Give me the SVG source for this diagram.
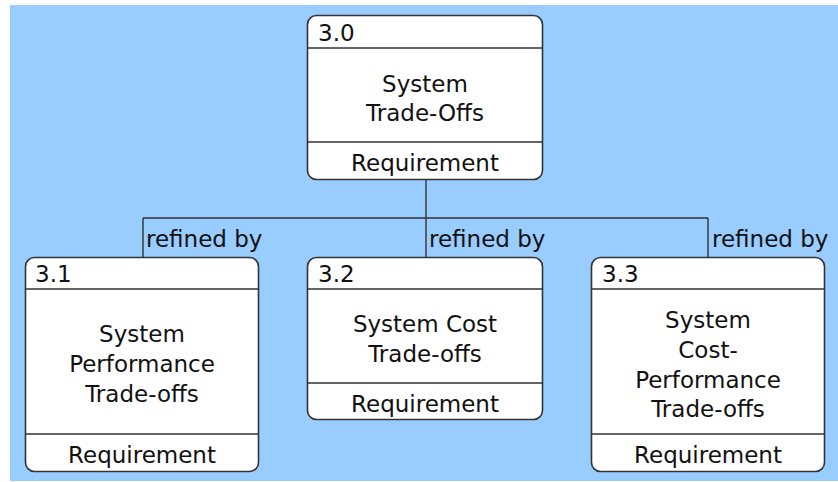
<svg xmlns="http://www.w3.org/2000/svg" width="838" height="482" viewBox="0 0 838 482">
<style>
.box{fill:#fff;stroke:#333;stroke-width:1.6}
.ln{stroke:#333;stroke-width:1.4;fill:none}
text{font-family:"DejaVu Sans",Verdana,sans-serif;font-size:23px;fill:#111}
.c{text-anchor:middle}
</style>
<rect x="0" y="0" width="838" height="482" fill="#fff"/>
<rect x="10" y="5" width="828" height="476" fill="#99CCFF"/>
<g id="connectors">
<path class="ln" d="M426 179V218M143 218H708M143 218V257M426 218V257M708 218V257"/>
<text x="146" y="247">refined by</text>
<text x="429" y="247">refined by</text>
<text x="712" y="247">refined by</text>
</g>
<g id="n30">
<rect class="box" x="307.5" y="15.5" width="235" height="164" rx="9"/>
<path class="ln" d="M307.5 48H542.5M307.5 142H542.5"/>
<text x="318" y="41">3.0</text>
<text class="c" x="425" y="92">System</text>
<text class="c" x="425" y="121">Trade-Offs</text>
<text class="c" x="425" y="171">Requirement</text>
</g>
<g id="n31">
<rect class="box" x="25.5" y="257.5" width="233" height="214" rx="9"/>
<path class="ln" d="M25.5 289H258.5M25.5 434H258.5"/>
<text x="35" y="282">3.1</text>
<text class="c" x="142" y="342">System</text>
<text class="c" x="142" y="372">Performance</text>
<text class="c" x="142" y="402">Trade-offs</text>
<text class="c" x="142" y="463">Requirement</text>
</g>
<g id="n32">
<rect class="box" x="307.5" y="257.5" width="235" height="162" rx="9"/>
<path class="ln" d="M307.5 289H542.5M307.5 383H542.5"/>
<text x="318" y="282">3.2</text>
<text class="c" x="425" y="332">System Cost</text>
<text class="c" x="425" y="362">Trade-offs</text>
<text class="c" x="425" y="412">Requirement</text>
</g>
<g id="n33">
<rect class="box" x="591.5" y="257.5" width="233" height="214" rx="9"/>
<path class="ln" d="M591.5 289H824.5M591.5 434H824.5"/>
<text x="602" y="282">3.3</text>
<text class="c" x="708" y="328">System</text>
<text class="c" x="708" y="358">Cost-</text>
<text class="c" x="708" y="388">Performance</text>
<text class="c" x="708" y="417">Trade-offs</text>
<text class="c" x="708" y="463">Requirement</text>
</g>
</svg>
